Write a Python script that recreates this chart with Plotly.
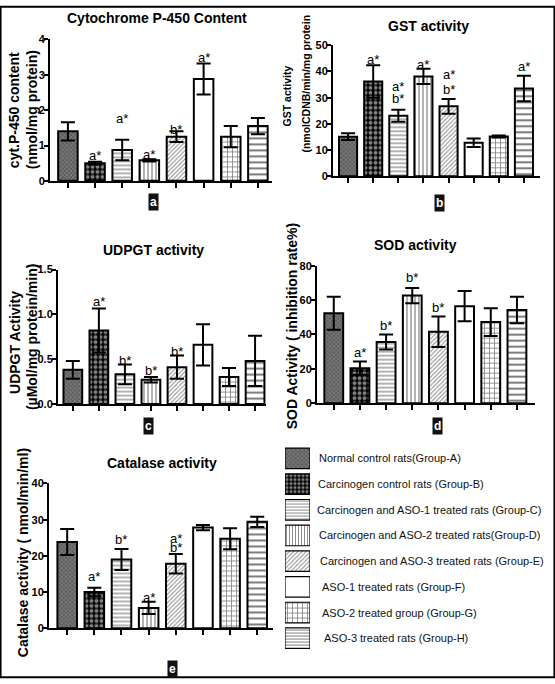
import plotly.graph_objects as go

# ---------------- data ----------------
groups = [
    "Normal control rats(Group-A)",
    "Carcinogen control rats (Group-B)",
    "Carcinogen and ASO-1 treated rats (Group-C)",
    "Carcinogen and ASO-2 treated rats(Group-D)",
    "Carcinogen and ASO-3 treated rats (Group-E)",
    "ASO-1 treated rats (Group-F)",
    "ASO-2 treated group (Group-G)",
    "ASO-3 treated rats (Group-H)",
]

cyp_mean = [1.40, 0.50, 0.87, 0.58, 1.25, 2.88, 1.25, 1.55]
cyp_err = [0.26, 0.04, 0.29, 0.03, 0.15, 0.44, 0.30, 0.23]
cyp_sig = ["", "a*", "a*", "a*", "b*", "a*", "", ""]
cyp_ticks = ["0", "1", "2", "3", "4"]

gst_mean = [15.1, 36.2, 23.1, 38.1, 26.7, 12.8, 15.2, 33.5]
gst_err = [1.3, 6.2, 2.3, 2.9, 2.8, 1.6, 0.4, 4.9]
gst_sig = ["", "a*", "a*|b*", "a*", "a*|b*", "", "", "a*"]
gst_ticks = ["0", "10", "20", "30", "40", "50"]

udpgt_mean = [0.38, 0.82, 0.33, 0.27, 0.41, 0.66, 0.30, 0.48]
udpgt_err = [0.10, 0.245, 0.11, 0.03, 0.13, 0.23, 0.10, 0.28]
udpgt_sig = ["", "a*", "b*", "b*", "b*", "", "", ""]
udpgt_ticks = ["0.0", "0.5", "1.0", "1.5"]

sod_mean = [52.3, 20.4, 35.6, 62.6, 41.6, 56.4, 47.2, 54.2]
sod_err = [9.6, 3.8, 4.3, 4.4, 8.9, 8.8, 8.1, 7.7]
sod_sig = ["", "a*", "b*", "b*", "b*", "", "", ""]
sod_ticks = ["0", "20", "40", "60", "80"]

cat_mean = [23.8, 10.0, 19.0, 5.6, 17.8, 27.8, 24.7, 29.4]
cat_err = [3.6, 1.2, 2.9, 1.7, 2.7, 0.7, 2.9, 1.4]
cat_sig = ["", "a*", "b*", "a*", "a*|b*", "", "", ""]
cat_ticks = ["0", "10", "20", "30", "40"]

panel_titles = ["Cytochrome P-450 Content", "GST activity", "UDPGT activity",
                "SOD activity", "Catalase activity"]
panel_letters = ["a", "b", "c", "d", "e"]

# ---------------- layout constants (pixels) ----------------
W, H = 555, 684
FONT = "Liberation Sans, Arial, sans-serif"


def fx(px):
    return px / W


def fy(py):
    return 1 - py / H


panels = [
    dict(mean=cyp_mean, err=cyp_err, sig=cyp_sig, ticks=cyp_ticks, x0=50, x1=272,
         ytop=34, ybot=178, xr=[-0.66, 7.52], yr=[0, 4],
         sig_y=[[], [0.73], [1.75], [0.75], [1.45], [3.5], [], []],
         title_xy=(157, 12), letter_xy=(153, 200)),
    dict(mean=gst_mean, err=gst_err, sig=gst_sig, ticks=gst_ticks, x0=333, x1=540,
         ytop=40, ybot=173.3, xr=[-0.6, 7.64], yr=[0, 50],
         sig_y=[[], [44.4], [34.4, 29.6], [42.5], [38.7, 33.1], [], [], [41.8]],
         title_xy=(428, 20), letter_xy=(439, 201)),
    dict(mean=udpgt_mean, err=udpgt_err, sig=udpgt_sig, ticks=udpgt_ticks, x0=58, x1=266,
         ytop=268.3, ybot=405, xr=[-0.57, 7.42], yr=[0, 1.5],
         sig_y=[[], [1.14], [0.48], [0.37], [0.59], [], [], []],
         title_xy=(153, 248), letter_xy=(148, 427)),
    dict(mean=sod_mean, err=sod_err, sig=sod_sig, ticks=sod_ticks, x0=317, x1=535,
         ytop=264.3, ybot=404.3, xr=[-0.64, 7.69], yr=[0, 80],
         sig_y=[[], [29.5], [45.3], [73], [55.8], [], [], []],
         title_xy=(415, 243), letter_xy=(437, 428)),
    dict(mean=cat_mean, err=cat_err, sig=cat_sig, ticks=cat_ticks, x0=49, x1=273,
         ytop=486, ybot=633.3, xr=[-0.67, 7.58], yr=[0, 40],
         sig_y=[[], [14.2], [24.4], [8.6], [24.7, 22.2], [], [], []],
         title_xy=(162, 465), letter_xy=(172, 675)),
]

# y-axis titles: (lines, x px per line, center y px per line, font size)
ytitles = [
    (["cyt.P-450 content", "(nmol/mg protein)"], [14, 32], [106, 106], 14),
    (["GST activity", "(nmolCDNB/min/mg protein"], [287, 306], [92, 79], 10.5),
    (["UDPGT Activity", "(\u00b5Mol/mg protein/min)"], [15, 32], [343, 337], 14),
    (["SOD Activity ( inhibition rate%)"], [292], [326], 14),
    (["Catalase activity ( nmol/min/ml)"], [23], [557], 14),
]

# bar fill patterns per group A..H
pat_shape = ["x", ".", "-", "|", "/", "", "+", "-"]
pat_fg = ["#cfcfcf", "#ffffff", "#000000", "#000000", "#222222", "#000000", "#000000", "#000000"]
pat_bg = ["#5e5e5e", "#000000", "#ffffff", "#ffffff", "#ffffff", "#ffffff", "#ffffff", "#ffffff"]
pat_size = [3, 5, 4, 4, 3, 4, 5, 6]
pat_sol = [0.3, 0.5, 0.3, 0.3, 0.35, 0.3, 0.3, 0.35]
leg_size = [3, 4, 3, 3, 3, 4, 5, 3]

fig = go.Figure()
annotations = []
idx = list(range(len(groups)))


def pattern(k, size):
    return dict(shape=pat_shape[k], fgcolor=pat_fg[k], bgcolor=pat_bg[k],
                size=size, solidity=pat_sol[k], fillmode="overlay")


for i, p in enumerate(panels):
    n = "" if i == 0 else str(i + 1)
    xa, ya = "x" + n, "y" + n
    for k in idx:
        fig.add_trace(go.Bar(
            x=[k], y=[p["mean"][k]], xaxis=xa, yaxis=ya, width=0.72,
            marker=dict(color=pat_bg[k], line=dict(color="black", width=2),
                        pattern=pattern(k, pat_size[k])),
            error_y=dict(type="data", array=[p["err"][k]], visible=True, color="black",
                         thickness=2, width=7),
            showlegend=False, hoverinfo="skip",
        ))
    step = (p["yr"][1] - p["yr"][0]) / (len(p["ticks"]) - 1)
    tvals = [p["yr"][0] + j * step for j in range(len(p["ticks"]))]
    fig.layout["xaxis" + n] = dict(
        domain=[fx(p["x0"]), fx(p["x1"])], range=p["xr"], anchor=ya,
        showline=True, linecolor="black", linewidth=2, showgrid=False, zeroline=False,
        ticks="outside", ticklen=5, tickwidth=1.5, tickcolor="black",
        tickvals=idx, ticktext=[""] * len(idx), showticklabels=True, fixedrange=True,
    )
    fig.layout["yaxis" + n] = dict(
        domain=[fy(p["ybot"]), fy(p["ytop"])], range=p["yr"], anchor=xa,
        showline=True, linecolor="black", linewidth=2, showgrid=False, zeroline=False,
        ticks="outside", ticklen=4, tickwidth=2, tickcolor="black",
        tickmode="array", tickvals=tvals, ticktext=["<b>%s</b>" % t for t in p["ticks"]],
        showticklabels=True, tickfont=dict(family=FONT, size=11, color="black"),
        ticklabelstandoff=-3, fixedrange=True,
    )
    for k in idx:
        labels = [s for s in p["sig"][k].split("|") if s]
        for s, yv in zip(labels, p["sig_y"][k]):
            annotations.append(dict(
                x=k, y=yv, xref=xa, yref=ya, text=s, showarrow=False,
                xanchor="center", yanchor="middle",
                font=dict(family=FONT, size=13, color="black"),
            ))
    tx, ty = p["title_xy"]
    annotations.append(dict(
        x=fx(tx), y=fy(ty), xref="paper", yref="paper", text="<b>%s</b>" % panel_titles[i],
        showarrow=False, xanchor="center", yanchor="middle",
        font=dict(family=FONT, size=14, color="black"),
    ))
    lx, ly = p["letter_xy"]
    annotations.append(dict(
        x=fx(lx), y=fy(ly), xref="paper", yref="paper", text="<b>%s</b>" % panel_letters[i],
        showarrow=False, xanchor="center", yanchor="middle", bgcolor="#111111",
        borderpad=1, font=dict(family=FONT, size=12, color="white"),
    ))
    lines, xs, ys, fs = ytitles[i]
    for t, xx, yy in zip(lines, xs, ys):
        annotations.append(dict(
            x=fx(xx), y=fy(yy), xref="paper", yref="paper", text="<b>%s</b>" % t,
            textangle=-90, showarrow=False, xanchor="center", yanchor="middle",
            font=dict(family=FONT, size=fs, color="black"),
        ))

# ---------------- legend (swatches as bars on a hidden axis) ----------------
leg_x0, leg_x1 = 285, 310
leg_top, leg_bot = 447.4, 656.6
for k in idx:
    fig.add_trace(go.Bar(
        x=[1], y=[k], orientation="h", xaxis="x6", yaxis="y6", width=0.8,
        marker=dict(color=pat_bg[k], line=dict(color="black", width=1.2),
                    pattern=pattern(k, leg_size[k])),
        showlegend=False, hoverinfo="skip",
    ))
fig.layout["xaxis6"] = dict(domain=[fx(leg_x0), fx(leg_x1)], range=[0, 1], anchor="y6",
                            visible=False, fixedrange=True)
fig.layout["yaxis6"] = dict(domain=[fy(leg_bot), fy(leg_top)], range=[7.5, -0.5], anchor="x6",
                            visible=False, fixedrange=True)
leg_text_x = [317, 316, 315, 317, 318, 320, 320, 322]
for k, g in enumerate(groups):
    annotations.append(dict(
        x=fx(leg_text_x[k]), y=k, xref="paper", yref="y6", text=g, showarrow=False,
        xanchor="left", yanchor="middle",
        font=dict(family=FONT, size=11, color="#111111"),
    ))

fig.update_layout(
    width=W, height=H, autosize=False,
    margin=dict(l=0, r=0, t=0, b=0),
    paper_bgcolor="white", plot_bgcolor="white",
    barmode="overlay", annotations=annotations,
    shapes=[dict(type="rect", xref="paper", yref="paper", x0=0.001, y0=0.001, x1=0.999, y1=0.999,
                 line=dict(color="black", width=2), fillcolor="rgba(0,0,0,0)")],
)

fig.write_html("out.html", config={"displayModeBar": False},
               post_script="document.body.style.margin='0px';document.body.style.overflow='hidden';")
